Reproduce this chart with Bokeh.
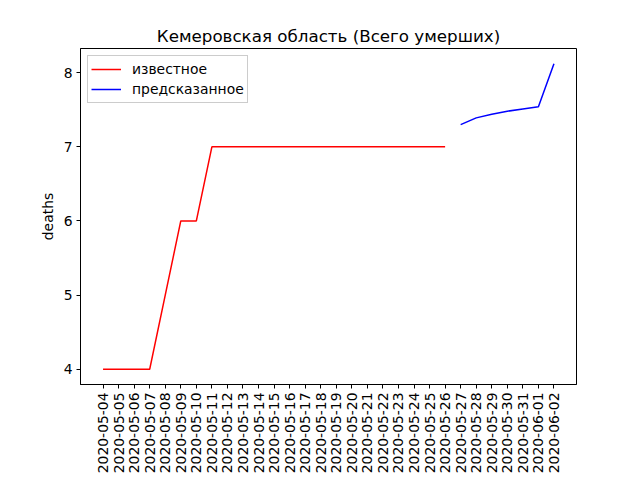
from bokeh.plotting import figure
from bokeh.models import FixedTicker, Range1d, Legend, LegendItem
from bokeh.embed import file_html
from bokeh.resources import INLINE
import math

dates = ["2020-05-04", "2020-05-05", "2020-05-06", "2020-05-07", "2020-05-08",
         "2020-05-09", "2020-05-10", "2020-05-11", "2020-05-12", "2020-05-13",
         "2020-05-14", "2020-05-15", "2020-05-16", "2020-05-17", "2020-05-18",
         "2020-05-19", "2020-05-20", "2020-05-21", "2020-05-22", "2020-05-23",
         "2020-05-24", "2020-05-25", "2020-05-26", "2020-05-27", "2020-05-28",
         "2020-05-29", "2020-05-30", "2020-05-31", "2020-06-01", "2020-06-02"]
known = [4, 4, 4, 4, 5, 6, 6, 7, 7, 7, 7, 7, 7, 7, 7, 7, 7, 7, 7, 7, 7, 7, 7]
predicted = [7.30, 7.39, 7.44, 7.48, 7.51, 7.54, 8.12]

FONT = "DejaVu Sans"

kx = list(range(len(known)))
px = list(range(len(known), len(known) + len(predicted)))

allv = known + predicted
ymin, ymax = min(allv), max(allv)
ypad = (ymax - ymin) * 0.05
n = len(dates) - 1
xpad = n * 0.05

p = figure(width=624, height=464, output_backend="svg", toolbar_location=None,
           x_range=Range1d(-xpad, n + xpad), y_range=Range1d(ymin - ypad, ymax + ypad),
           min_border_left=80, min_border_right=48, min_border_top=48, min_border_bottom=80,
           frame_width=496, frame_height=336)

p.title.text = "Кемеровская область (Всего умерших)"
p.title.align = "center"
p.title.text_font = FONT
p.title.text_font_size = "16.7px"
p.title.text_font_style = "normal"
p.title.text_color = "black"
p.title.standoff = 6

r1 = p.line(kx, known, line_color="red", line_width=1.5)
r2 = p.line(px, predicted, line_color="blue", line_width=1.5)

legend = Legend(items=[LegendItem(label="известное", renderers=[r1]),
                       LegendItem(label="предсказанное", renderers=[r2])],
                location="top_left")
legend.label_text_font = FONT
legend.label_text_font_size = "13.9px"
legend.label_text_color = "black"
legend.border_line_color = "#cccccc"
legend.border_line_alpha = 1
legend.background_fill_alpha = 0.8
legend.margin = 7
legend.padding = 3
legend.spacing = 0
legend.label_height = 20
legend.glyph_height = 20
legend.glyph_width = 30
legend.label_standoff = 11
p.add_layout(legend)

p.xgrid.visible = False
p.ygrid.visible = False
p.outline_line_color = "black"
p.outline_line_alpha = 1

p.xaxis.ticker = FixedTicker(ticks=list(range(len(dates))))
p.xaxis.major_label_overrides = {i: d for i, d in enumerate(dates)}
p.xaxis.major_label_orientation = math.pi / 2
p.yaxis.ticker = FixedTicker(ticks=[4, 5, 6, 7, 8])
p.yaxis.axis_label = "deaths"

for ax in (p.xaxis[0], p.yaxis[0]):
    ax.major_label_text_font = FONT
    ax.major_label_text_font_size = "13.9px"
    ax.major_label_text_color = "black"
    ax.major_label_standoff = 4
    ax.axis_label_text_font = FONT
    ax.axis_label_text_font_size = "13.9px"
    ax.axis_label_text_font_style = "normal"
    ax.axis_label_text_color = "black"
    ax.major_tick_in = 0
    ax.major_tick_out = 4
    ax.minor_tick_line_color = None
    ax.axis_line_color = "black"
    ax.major_tick_line_color = "black"

open("out.html", "w").write(file_html(p, INLINE))
